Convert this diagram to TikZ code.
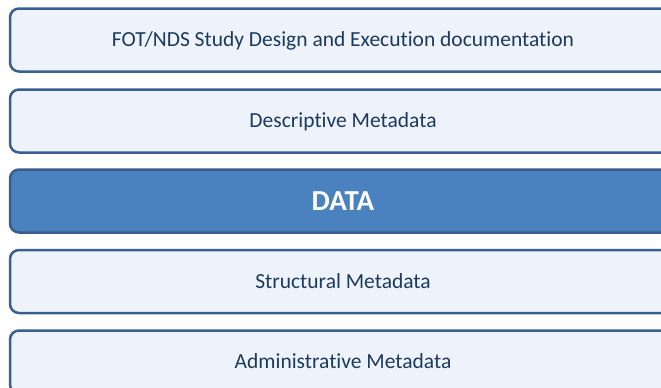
\documentclass[tikz,border=0pt]{standalone}
\usepackage{fontspec}
\setmainfont[Ligatures=NoCommon]{Carlito}
\definecolor{boxline}{HTML}{3A5F8E}
\definecolor{boxfill}{HTML}{EEF3FB}
\definecolor{datafill}{HTML}{4A81BF}
\definecolor{txt}{HTML}{1C3A5E}
\begin{document}
\begin{tikzpicture}[x=1pt,y=-1pt,
  layer/.style={draw=boxline, line width=2.5pt, fill=boxfill, rounded corners=9pt,
    minimum width=666pt, minimum height=63pt, inner sep=0pt, text=txt,
    text height=13.8pt, text depth=0pt,
    font=\fontsize{21.5}{24}\selectfont, anchor=center},
  datalayer/.style={layer, fill=datafill, text=white, text height=18.5pt,
    font=\fontsize{29}{32}\selectfont\bfseries}]
\useasboundingbox (0,0) rectangle (661,388);
\begin{scope}
\clip (0,0) rectangle (661,388);
\node[layer] (doc) at (343,40) {FOT/NDS Study Design and Execution documentation};
\node[layer] (desc) at (343,121) {Descriptive Metadata};
\node[datalayer] (data) at (343,201) {DATA};
\node[layer] (struct) at (343,281.5) {Structural Metadata};
\node[layer] (admin) at (343,362) {Administrative Metadata};
\end{scope}
\end{tikzpicture}
\end{document}
